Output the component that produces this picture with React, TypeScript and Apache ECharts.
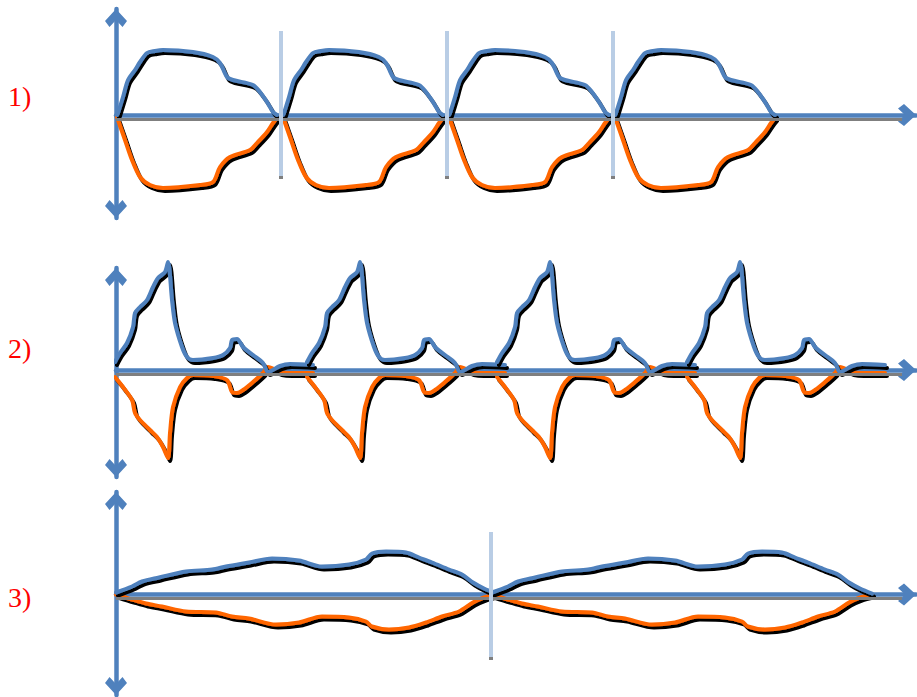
import { useEffect, useRef } from 'react';
import * as echarts from 'echarts';

// Panel labels
const panelLabels = ['1)', '2)', '3)'];

// Panel 1: one cycle (x from cycle start, y up from baseline)
const p1Blue = [[0, 0], [1, 2], [6, 18], [11, 35], [18, 45], [23, 53], [30, 62], [38, 64], [46, 65], [76, 63], [96, 58], [103, 52], [110, 38], [116, 35], [136, 30], [143, 23], [150, 13], [153, 8], [156, 3], [160, 0]];
const p1Orange = [[0, -2], [1, -5], [8, -25], [15, -45], [23, -62], [33, -70], [46, -73], [83, -70], [96, -67], [103, -52], [113, -42], [133, -35], [140, -28], [150, -17], [156, -8], [160, -3]];
const p1CycleStarts = [1, 167, 333, 499];
const p1Separators = [165, 331, 497];
const p1SeparatorSpan = [84, -61];

// Panel 2
const p2Blue = [[0, 8], [5, 17], [12, 27], [18, 43], [20, 57], [25, 63], [32, 70], [38, 83], [43, 92], [50, 98], [53, 108], [57, 70], [60, 47], [67, 23], [72, 13], [78, 10], [98, 12], [108, 15], [115, 22], [117, 30], [122, 31], [128, 23], [138, 15], [148, 7], [153, -2], [165, 4], [175, 6], [198, 5]];
const p2Orange = [[0, -7], [8, -17], [17, -30], [20, -43], [25, -50], [35, -60], [42, -67], [48, -77], [53, -88], [55, -63], [58, -37], [65, -17], [72, -8], [78, -5], [98, -6], [112, -10], [117, -22], [122, -23], [128, -20], [138, -12], [148, -3], [153, 3], [165, -2], [175, -3], [198, -3]];
const p2CycleStarts = [-1, 191, 381, 571];

// Panel 3
const p3Blue = [[0, 2], [16, 8], [26, 13], [43, 17], [70, 23], [96, 25], [110, 28], [133, 32], [156, 36], [183, 34], [206, 28], [233, 30], [250, 35], [256, 41], [270, 43], [290, 42], [303, 37], [316, 32], [333, 25], [346, 20], [357, 12], [368, 6], [380, 1]];
const p3Orange = [[0, 0], [16, -5], [30, -9], [46, -12], [70, -17], [100, -18], [116, -22], [133, -24], [160, -30], [183, -28], [206, -22], [233, -23], [250, -27], [256, -32], [273, -35], [293, -33], [310, -28], [326, -22], [343, -17], [357, -8], [368, -3], [380, 0]];
const p3CycleStarts = [0, 376];
const p3Separators = [375];
const p3SeparatorSpan = [62.5, -62.5];

const BLUE = '#4f81bd';
const ORANGE = '#ff6600';
const SEP = '#b9cde5';
const GRAY = '#7f7f7f';
const ARROW = 'path://M11,0 L22,12 L17.5,18 L11,11 L4.5,18 L0,12 Z';

const layout = [
  { top: 9, height: 209, min: -103, max: 106, labelY: 96 },
  { top: 268, height: 209, min: -107, max: 102, labelY: 348 },
  { top: 492, height: 203, min: -100.5, max: 102.5, labelY: 597 },
];

const panels = [
  { blue: p1Blue, orange: p1Orange, starts: p1CycleStarts, seps: p1Separators, span: p1SeparatorSpan },
  { blue: p2Blue, orange: p2Orange, starts: p2CycleStarts, seps: [] as number[], span: [0, 0] },
  { blue: p3Blue, orange: p3Orange, starts: p3CycleStarts, seps: p3Separators, span: p3SeparatorSpan },
];

function curveStyle(color: string) {
  return {
    color,
    width: 4,
    cap: 'round',
    join: 'round',
    shadowColor: '#000000',
    shadowOffsetX: 2,
    shadowOffsetY: 3,
    shadowBlur: 0,
  };
}

function buildOption() {
  const grid = layout.map((l) => ({ left: 116, width: 800, top: l.top, height: l.height }));
  const xAxis = layout.map((_, i) => ({
    type: 'value',
    gridIndex: i,
    min: 0,
    max: 800,
    axisLine: {
      show: true,
      onZero: true,
      symbol: ['none', ARROW],
      symbolSize: [22, 18],
      symbolOffset: [0, -9],
      lineStyle: { color: BLUE, width: 4.5 },
    },
    axisTick: { show: false },
    axisLabel: { show: false },
    splitLine: { show: false },
  }));
  const yAxis = layout.map((l, i) => ({
    type: 'value',
    gridIndex: i,
    min: l.min,
    max: l.max,
    axisLine: {
      show: true,
      onZero: true,
      symbol: [ARROW, ARROW],
      symbolSize: [22, 18],
      symbolOffset: [9, -9],
      lineStyle: { color: BLUE, width: 4.5 },
    },
    axisTick: { show: false },
    axisLabel: { show: false },
    splitLine: { show: false },
  }));

  const series: any[] = [];
  panels.forEach((p, i) => {
    // gray under-line of the horizontal axis and separator lines
    const lines: any[] = [
      [
        { coord: [0, -4], lineStyle: { color: GRAY, width: 3 } },
        { coord: [786, -4] },
      ],
    ];
    p.seps.forEach((x) => {
      lines.push([{ coord: [x, p.span[0]], lineStyle: { color: SEP, width: 4 } }, { coord: [x, p.span[1]] }]);
      lines.push([{ coord: [x, p.span[1]], lineStyle: { color: GRAY, width: 4 } }, { coord: [x, p.span[1] - 3] }]);
    });
    series.push({
      type: 'line',
      xAxisIndex: i,
      yAxisIndex: i,
      data: [[0, 0]],
      showSymbol: false,
      symbol: 'none',
      lineStyle: { width: 0, opacity: 0 },
      silent: true,
      z: 2,
      markLine: {
        silent: true,
        symbol: ['none', 'none'],
        label: { show: false },
        emphasis: { disabled: true },
        lineStyle: { type: 'solid', cap: 'butt' },
        data: lines,
      },
    });
    p.starts.forEach((s) => {
      [
        { d: p.orange, c: ORANGE },
        { d: p.blue, c: BLUE },
      ].forEach(({ d, c }) => {
        series.push({
          type: 'line',
          xAxisIndex: i,
          yAxisIndex: i,
          data: d.map(([x, y]) => [x + s, y]),
          showSymbol: false,
          symbol: 'none',
          smooth: 0.3,
          clip: false,
          silent: true,
          lineStyle: curveStyle(c),
          z: 3,
        });
      });
    });
  });

  const graphic = layout.map((l, i) => ({
    type: 'text',
    x: 8,
    y: l.labelY,
    style: {
      text: panelLabels[i],
      fontSize: 28,
      fontFamily: '"Liberation Serif", "Times New Roman", serif',
      fill: '#ff0000',
      verticalAlign: 'middle',
    },
  }));

  return { animation: false, grid, xAxis, yAxis, series, graphic };
}

export default function App() {
  const ref = useRef<HTMLDivElement>(null);
  useEffect(() => {
    const chart = echarts.init(ref.current!, null, { renderer: 'svg' });
    chart.setOption(buildOption() as any);
    return () => chart.dispose();
  }, []);
  return <div ref={ref} style={{ position: 'fixed', left: 0, top: 0, width: 917, height: 697, background: '#fff' }} />;
}
